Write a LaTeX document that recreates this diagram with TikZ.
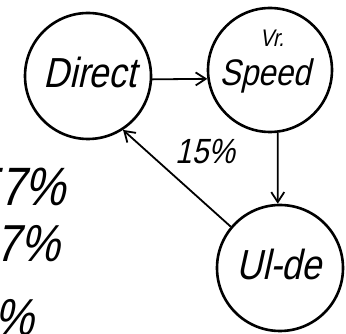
\documentclass[tikz,border=0pt]{standalone}
\usepackage{fontspec}
\newfontfamily\hand{Liberation Sans}[FakeSlant=0.22, FakeStretch=0.85]
\usetikzlibrary{arrows.meta}
\begin{document}
\begin{tikzpicture}[x=1pt,y=-1pt,
  state/.style={circle,draw,line width=2.6pt,minimum size=126pt,inner sep=0pt},
  link/.style={line width=1.8pt,-{Straight Barb[length=10pt,width=13pt,line width=1.8pt]}},
  hw/.style={font=\hand\fontsize{#1}{#1}\selectfont, inner sep=0pt}]
\useasboundingbox (0,0) rectangle (346,334);
\clip (0,0) rectangle (346,334);
\fill[white] (0,0) rectangle (346,334);
% circles
\node[state] (direct) at (88,76) {};
\node[state, minimum size=124pt] (speed) at (270,70) {};
\node[state] (alde) at (280,268) {};
% texts
\node[hw=42] (tdirect) at (90,72) {Direct};
\node[hw=24] (tvr) at (272,38) {Vr.};
\node[hw=37] (tspeed) at (265,76) {Speed};
\node[hw=42] (talde) at (279,264) {Ul-de};
% connectors
\draw[link] (direct.-3) -- (speed.188);
\draw[link] (speed.-83.5) -- (alde.92.7);
\draw[link] (alde.140.4) -- (direct.-57);
\node[hw=35] (p15) at (205,152) {15\%};
% left percentages
\node[hw=54, anchor=east] (p57) at (66,187) {57\%};
\node[hw=52, anchor=east] (p7) at (60,244) {7\%};
\node[hw=52, anchor=east] (p5) at (34,318) {7\%};
\end{tikzpicture}
\end{document}
